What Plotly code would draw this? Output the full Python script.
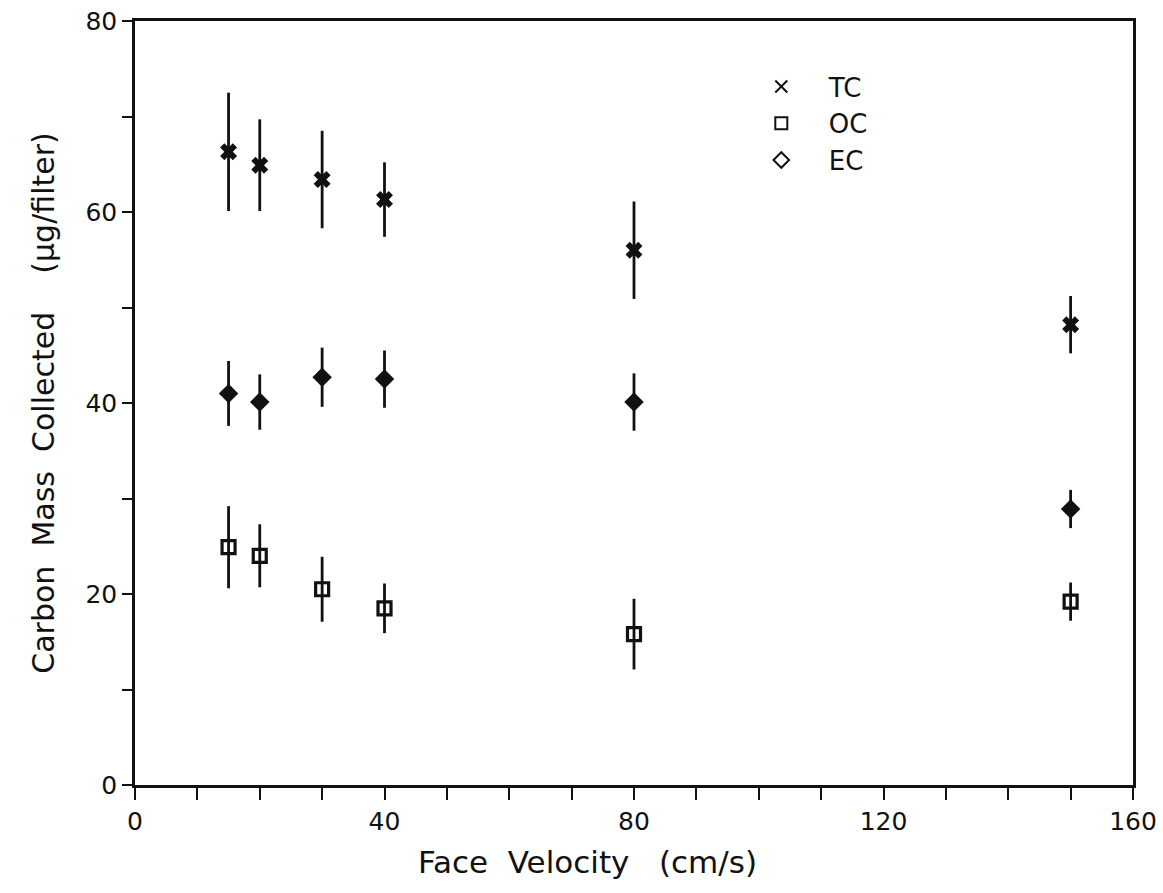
import plotly.graph_objects as go

velocity = [15, 20, 30, 40, 80, 150]
tc = [66.3, 64.9, 63.4, 61.3, 56.0, 48.2]
tc_err = [6.2, 4.8, 5.1, 3.9, 5.1, 3.0]
oc = [24.9, 24.0, 20.5, 18.5, 15.8, 19.2]
oc_err = [4.3, 3.3, 3.4, 2.6, 3.7, 2.0]
ec = [41.0, 40.1, 42.7, 42.5, 40.1, 28.9]
ec_err = [3.4, 2.9, 3.1, 3.0, 3.0, 2.0]

x_ticks = [0, 40, 80, 120, 160]
y_ticks = [0, 20, 40, 60, 80]

FONT = "DejaVu Sans"
BLACK = "#111111"

fig = go.Figure()

def err(e):
    return dict(type="data", array=e, visible=True, width=0, thickness=2.8, color=BLACK)

fig.add_trace(go.Scatter(x=velocity, y=tc, mode="markers", error_y=err(tc_err), showlegend=False,
                         marker=dict(symbol="x", size=15, color=BLACK, line=dict(width=0))))
fig.add_trace(go.Scatter(x=velocity, y=ec, mode="markers", error_y=err(ec_err), showlegend=False,
                         marker=dict(symbol="diamond", size=15, color=BLACK, line=dict(width=0))))
fig.add_trace(go.Scatter(x=velocity, y=oc, mode="markers", error_y=err(oc_err), showlegend=False,
                         marker=dict(symbol="square-open", size=13, color=BLACK, line=dict(width=3.2, color=BLACK))))

# legend entries
fig.add_trace(go.Scatter(x=[None], y=[None], mode="markers", name="TC",
                         marker=dict(symbol="x-thin-open", size=12, color=BLACK, line=dict(width=2, color=BLACK))))
fig.add_trace(go.Scatter(x=[None], y=[None], mode="markers", name="OC",
                         marker=dict(symbol="square-open", size=12, color=BLACK, line=dict(width=2, color=BLACK))))
fig.add_trace(go.Scatter(x=[None], y=[None], mode="markers", name="EC",
                         marker=dict(symbol="diamond-open", size=11, color=BLACK, line=dict(width=2, color=BLACK))))

axis_common = dict(
    showgrid=False, zeroline=False, showline=True, linecolor=BLACK, linewidth=2.5,
    mirror=True, ticks="outside", tickcolor=BLACK, tickwidth=2, automargin=False,
    tickfont=dict(family=FONT, size=25, color=BLACK),
)

fig.update_layout(
    width=1163, height=893,
    margin=dict(l=135, r=30, t=21, b=108),
    paper_bgcolor="white", plot_bgcolor="white",
    font=dict(family=FONT, color=BLACK),
    xaxis=dict(axis_common, range=[0, 160], tickvals=x_ticks, ticktext=[str(v) for v in x_ticks],
               ticklen=12,
               minor=dict(dtick=10, tick0=0, ticks="outside", ticklen=12, tickwidth=2, tickcolor=BLACK)),
    yaxis=dict(axis_common, range=[0, 80], tickvals=y_ticks, ticktext=[str(v) for v in y_ticks],
               ticklen=10,
               minor=dict(dtick=10, tick0=0, ticks="outside", ticklen=10, tickwidth=2, tickcolor=BLACK),
               title=dict(text="Carbon  Mass  Collected    (μg/filter)", font=dict(family=FONT, size=30, color=BLACK), standoff=22)),
    legend=dict(x=0.60, y=0.945, xanchor="left", yanchor="top", bgcolor="rgba(0,0,0,0)",
                font=dict(family=FONT, size=26, color=BLACK), itemsizing="constant",
                itemwidth=85, tracegroupgap=0),
    annotations=[dict(text="Face  Velocity   (cm/s)", xref="paper", yref="paper", x=0.453, y=-0.101,
                      xanchor="center", yanchor="middle", showarrow=False,
                      font=dict(family=FONT, size=31, color=BLACK))],
)

fig.write_html("out.html")
